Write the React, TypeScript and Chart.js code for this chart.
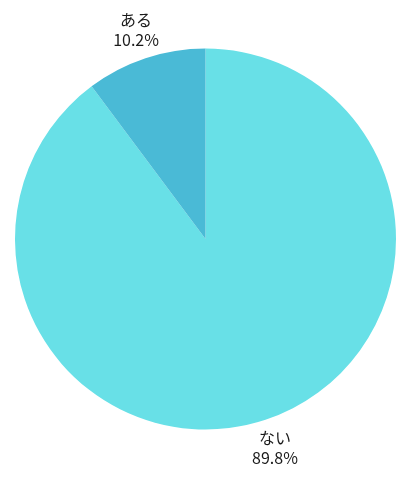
import React, { useEffect, useRef } from "react";
import { Chart, registerables } from "chart.js";

Chart.register(...registerables);

const categories = ["ない", "ある"];
const values = [89.8, 10.2];
const colors = ["#68E0E7", "#4ABAD6"];

const labelPlugin = {
  id: "outerLabels",
  afterDraw(chart: any) {
    const ctx = chart.ctx;
    const meta = chart.getDatasetMeta(0);
    ctx.save();
    ctx.fillStyle = "#1a1a1a";
    ctx.font = "16px 'Noto Sans CJK JP', 'Noto Sans', sans-serif";
    ctx.textAlign = "center";
    ctx.textBaseline = "middle";
    meta.data.forEach((arc: any, i: number) => {
      const mid = (arc.startAngle + arc.endAngle) / 2;
      const r = arc.outerRadius + 30;
      const x = arc.x + Math.cos(mid) * r;
      const y = arc.y + Math.sin(mid) * r;
      ctx.fillText(categories[i], x, y - 10);
      ctx.fillText(values[i].toFixed(1) + "%", x, y + 10);
    });
    ctx.restore();
  },
};

export default function App() {
  const ref = useRef<HTMLCanvasElement | null>(null);
  useEffect(() => {
    if (!ref.current) return;
    const chart = new Chart(ref.current, {
      type: "pie",
      data: {
        labels: categories,
        datasets: [
          {
            data: values,
            backgroundColor: colors,
            borderWidth: 0,
          },
        ],
      },
      options: {
        responsive: false,
        animation: false,
        layout: { padding: { top: 48, bottom: 50, left: 15, right: 14 } },
        plugins: { legend: { display: false }, tooltip: { enabled: false } },
      },
      plugins: [labelPlugin],
    });
    return () => chart.destroy();
  }, []);
  return (
    <div style={{ position: "absolute", left: 0, top: 0, width: 410, height: 480, background: "#fff" }}>
      <canvas ref={ref} width={410} height={480} />
    </div>
  );
}
